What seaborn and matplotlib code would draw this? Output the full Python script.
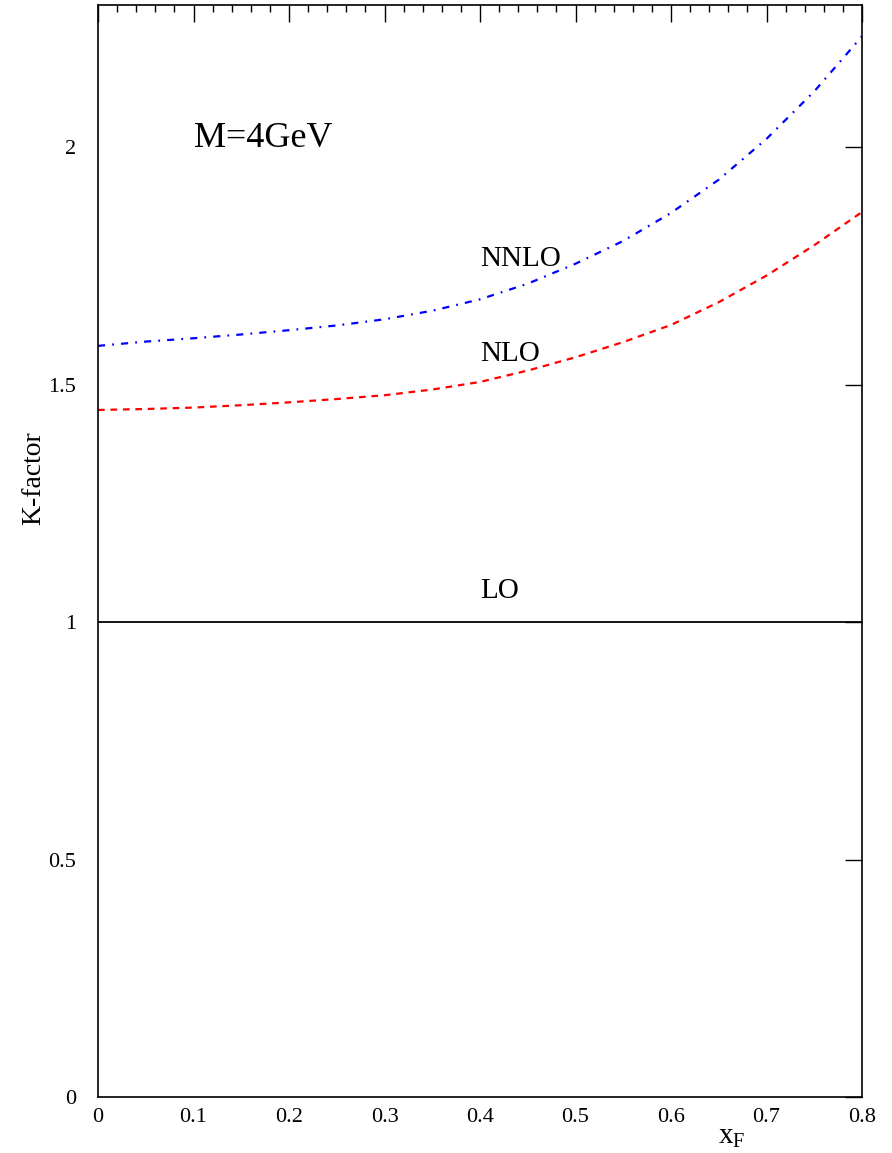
import numpy as np
import pandas as pd
import seaborn as sns
import matplotlib.pyplot as plt
from matplotlib.ticker import MultipleLocator

# values
xf = [0.0, 0.05, 0.1, 0.15, 0.2, 0.25, 0.3, 0.35, 0.4, 0.45, 0.5, 0.55, 0.6, 0.65, 0.7, 0.75, 0.8]
k_lo = [1.0] * len(xf)
k_nlo = [1.447, 1.449, 1.452, 1.457, 1.463, 1.470, 1.478, 1.490, 1.506, 1.530, 1.558, 1.590,
         1.626, 1.674, 1.730, 1.794, 1.864]
k_nnlo = [1.582, 1.591, 1.598, 1.606, 1.615, 1.625, 1.638, 1.656, 1.680, 1.713, 1.755, 1.803,
          1.862, 1.932, 2.018, 2.118, 2.234]

df = pd.DataFrame({'xF': xf, 'LO': k_lo, 'NLO': k_nlo, 'NNLO': k_nnlo})

sns.set_theme(style='white')
plt.rcParams['font.family'] = ['Liberation Serif', 'DejaVu Serif']
plt.rcParams['mathtext.fontset'] = 'custom'
plt.rcParams['mathtext.rm'] = 'Liberation Serif'
plt.rcParams['text.color'] = 'black'
plt.rcParams['axes.labelcolor'] = 'black'

fig = plt.figure(figsize=(8.92, 11.53), dpi=100)
ax = fig.add_axes([0.1099, 0.0486, 0.8565, 0.9471])

sns.lineplot(data=df, x='xF', y='LO', ax=ax, color='black', linewidth=1.3)
sns.lineplot(data=df, x='xF', y='NLO', ax=ax, color='red', linewidth=1.6)
sns.lineplot(data=df, x='xF', y='NNLO', ax=ax, color='blue', linewidth=1.6)
ax.lines[1].set_dashes((3, 2.6))
ax.lines[2].set_dashes((3.2, 3.2, 0.8, 3.2))

ax.set_xlim(0, 0.8)
ax.set_ylim(0, 2.3)
ax.xaxis.set_minor_locator(MultipleLocator(0.02))
ax.set_xticks([0, 0.1, 0.2, 0.3, 0.4, 0.5, 0.6, 0.7, 0.8])
ax.set_xticklabels(['0', '0.1', '0.2', '0.3', '0.4', '0.5', '0.6', '0.7', '0.8'])
ax.set_yticks([0, 0.5, 1, 1.5, 2])
ax.set_yticklabels(['0', '0.5', '1', '1.5', '2'])

ax.tick_params(axis='both', which='both', direction='in', top=True, right=True,
               colors='black', labelsize=16)
ax.tick_params(axis='x', which='major', length=12, width=1, pad=8)
ax.tick_params(axis='x', which='minor', length=5, width=1)
ax.tick_params(axis='y', which='major', length=12, width=1, pad=16)
for s in ax.spines.values():
    s.set_color('black')
    s.set_linewidth(1.2)

ax.set_xlabel('')
ax.set_ylabel('K-factor', fontsize=20, color='black')
ax.yaxis.set_label_coords(-0.068, 0.567)
ax.text(0.83, -0.025, r'$\mathrm{x_F}$', transform=ax.transAxes, fontsize=21,
        ha='center', va='top', color='black')

ax.text(0.1, 2.0, 'M=4GeV', fontsize=26, ha='left', va='baseline', color='black')
ax.text(0.4, 1.751, 'NNLO', fontsize=21, ha='left', va='baseline', color='black')
ax.text(0.4, 1.551, 'NLO', fontsize=21, ha='left', va='baseline', color='black')
ax.text(0.4, 1.051, 'LO', fontsize=21, ha='left', va='baseline', color='black')

fig.savefig('out.png', dpi=100)
